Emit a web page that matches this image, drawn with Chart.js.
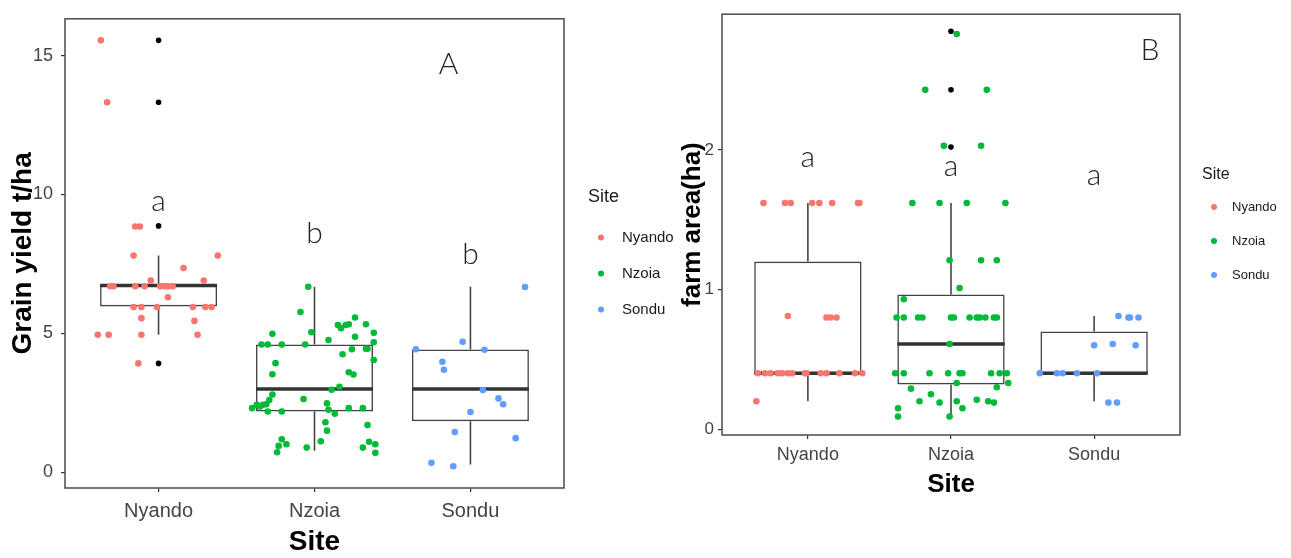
<!DOCTYPE html>
<html>
<head>
<meta charset="utf-8">
<title>Grain yield and farm area by site</title>
<script src="https://cdn.jsdelivr.net/npm/chart.js@4.4.1/dist/chart.umd.min.js"></script>
<style>
    body { margin: 0; background: #fff; }
    .panel { position: absolute; top: 0; }
    #yield_chart { left: 0; }
    #area_chart { left: 680px; }
</style>
</head>
<body>
<canvas id="yield_chart" class="panel" width="680" height="558"></canvas>
<canvas id="area_chart" class="panel" width="611" height="558"></canvas>
<script>
const sites = ['Nyando', 'Nzoia', 'Sondu']
const siteColors = ['#F8766D', '#00BA38', '#619CFF']

// grain yield, t/ha
const yieldTicks = [0, 5, 10, 15]
const yieldLow = [4.95, 0.78, 0.28]
const yieldQ1 = [5.97, 2.19, 1.84]
const yieldMedian = [6.72, 3.0, 3.0]
const yieldQ3 = [6.75, 4.6, 4.42]
const yieldHigh = [7.8, 6.68, 6.68]
const yieldOutliers = [[15.55, 13.32, 8.87, 3.92], [], []]
const yieldLetters = ['a', 'b', 'b']
const yieldLetterY = [9.75, 8.6, 7.85]

const nyandoYield = [15.55, 13.32, 8.85, 8.85, 7.8, 7.8, 7.35, 6.9, 6.9, 6.7, 6.7, 6.7, 6.7, 6.7, 6.7, 6.7, 6.7, 6.3,
    5.95, 5.95, 5.95, 5.95, 5.95, 5.95, 5.55, 5.45, 4.95, 4.95, 4.95, 4.95, 3.92]
const nyandoYieldJitter = [-0.37, -0.33, -0.15, -0.12, -0.16, 0.38, 0.16, -0.05, 0.29, -0.31, -0.29, -0.15, -0.09, 0.01, 0.04, 0.06, 0.09, 0.06,
    -0.16, -0.11, -0.01, 0.22, 0.30, 0.34, -0.11, 0.23, -0.39, -0.32, -0.11, 0.25, -0.13]

const nzoiaYield = [6.68, 5.77, 4.99, 5.04, 5.3, 5.19, 5.3, 5.33, 5.57, 5.33, 5.02, 4.88, 4.76, 4.68, 4.6, 4.6, 4.6, 4.6,
    4.45, 4.45, 4.43, 4.25, 4.04, 3.93, 3.53, 3.6, 3.52, 3.08, 2.97, 2.8, 2.6, 2.64, 2.31, 2.43, 2.37, 2.43, 2.45, 2.19,
    2.19, 2.48, 2.25, 2.11, 2.31, 2.31, 1.8, 1.5, 1.7, 1.12, 0.89, 1.19, 1.01, 0.95, 0.72, 1.1, 1.01, 0.89, 0.7]
const nzoiaYieldJitter = [-0.04, -0.09, -0.27, -0.02, 0.15, 0.17, 0.2, 0.22, 0.26, 0.33, 0.38, 0.26, 0.09, 0.38, -0.34, -0.3, -0.21, -0.06,
    0.33, 0.34, 0.24, 0.18, 0.38, -0.25, -0.27, 0.22, 0.25, 0.16, 0.11, -0.27, -0.29, -0.07, -0.4, -0.37, -0.35, -0.33, -0.31, -0.3,
    -0.21, 0.08, 0.09, 0.13, 0.22, 0.31, 0.07, 0.08, 0.34, 0.04, -0.05, -0.21, -0.18, -0.23, -0.24, 0.35, 0.39, 0.31, 0.39]

const sonduYield = [6.67, 4.7, 4.43, 4.41, 3.98, 3.69, 2.96, 2.66, 2.45, 2.17, 1.45, 1.23, 0.34, 0.22]
const sonduYieldJitter = [0.35, -0.05, -0.35, 0.09, -0.18, -0.17, 0.08, 0.18, 0.21, 0, -0.1, 0.29, -0.25, -0.11]

// farm area, ha
const areaTicks = [0, 1, 2]
const areaLow = [0.2, 0.09, 0.2]
const areaQ1 = [0.4, 0.32, 0.4]
const areaMedian = [0.4, 0.61, 0.4]
const areaQ3 = [1.2, 0.965, 0.7]
const areaHigh = [1.62, 1.62, 0.81]
const areaOutliers = [[], [2.85, 2.43, 2.02], []]
const areaLetters = ['a', 'a', 'a']
const areaLetterY = [1.95, 1.88, 1.82]

const nyandoArea = [1.62, 1.62, 1.62, 1.62, 1.62, 1.62, 1.62, 1.62, 0.81, 0.8, 0.8, 0.8,
    0.4, 0.4, 0.4, 0.4, 0.4, 0.4, 0.4, 0.4, 0.4, 0.4, 0.4, 0.4, 0.4, 0.4, 0.2]
const nyandoAreaJitter = [-0.31, -0.16, -0.12, 0.03, 0.08, 0.17, 0.35, 0.36, -0.14, 0.13, 0.16, 0.2,
    -0.35, -0.3, -0.26, -0.21, -0.18, -0.14, -0.11, -0.02, -0.01, 0.09, 0.13, 0.22, 0.33, 0.38, -0.36]

const nzoiaArea = [2.83, 2.43, 2.43, 2.03, 2.03, 1.62, 1.62, 1.62, 1.62, 1.21, 1.21, 1.21, 1.01, 0.93,
    0.8, 0.8, 0.8, 0.8, 0.8, 0.8, 0.8, 0.8, 0.8, 0.8, 0.8, 0.8, 0.61,
    0.4, 0.4, 0.4, 0.4, 0.4, 0.4, 0.4, 0.4, 0.4, 0.33, 0.33, 0.3, 0.29, 0.25, 0.2, 0.19, 0.2, 0.15, 0.21, 0.2, 0.19, 0.15, 0.09, 0.09]
const nzoiaAreaJitter = [0.04, -0.18, 0.25, -0.05, 0.21, -0.27, -0.08, 0.11, 0.38, -0.01, 0.21, 0.32, 0.06, -0.33,
    -0.38, -0.33, -0.23, -0.2, 0, 0.02, 0.13, 0.18, 0.2, 0.24, 0.3, 0.32, -0.01,
    -0.39, -0.33, -0.15, -0.02, 0.06, 0.08, 0.28, 0.34, 0.39, 0.04, 0.4, 0.32, -0.28, -0.14, -0.22, -0.08, 0.04, 0.08, 0.18, 0.26, 0.3, -0.37, -0.37, -0.01]

const sonduArea = [0.81, 0.8, 0.8, 0.8, 0.6, 0.61, 0.6, 0.4, 0.4, 0.4, 0.4, 0.4, 0.19, 0.19]
const sonduAreaJitter = [0.17, 0.24, 0.25, 0.31, 0, 0.13, 0.29, -0.38, -0.26, -0.22, -0.12, 0.02, 0.1, 0.16]

const BOX_WIDTH = 0.75
const BOX_LINE = '#444'
const TEXT_FONT = "'Liberation Sans', Arial, sans-serif"

function jittered(values, offsets, site) {
    return values.map((v, i) => ({ x: site + offsets[i], y: v }))
}

function pointDatasets(groups) {
    return groups.map((g, i) => ({
        type: 'scatter',
        data: jittered(g[0], g[1], i + 1),
        pointBackgroundColor: siteColors[i],
        pointBorderWidth: 0,
        pointRadius: 3.3,
        order: 0
    }))
}

function boxplotDatasets(low, q1, median, q3, high, outliers) {
    const whiskers = []
    const medians = []
    const dots = []
    sites.forEach((s, i) => {
        const x = i + 1
        whiskers.push({ x, y: q3[i] }, { x, y: high[i] }, { x, y: null })
        whiskers.push({ x, y: low[i] }, { x, y: q1[i] }, { x, y: null })
        medians.push({ x: x - BOX_WIDTH / 2, y: median[i] }, { x: x + BOX_WIDTH / 2, y: median[i] }, { x, y: null })
        outliers[i].forEach(v => dots.push({ x, y: v }))
    })
    return [
        {
            type: 'bar',
            data: sites.map((s, i) => ({ x: i + 1, y: [q1[i], q3[i]] })),
            backgroundColor: '#fff',
            borderColor: BOX_LINE,
            borderWidth: 1.6,
            borderSkipped: false,
            categoryPercentage: 1,
            barPercentage: BOX_WIDTH,
            grouped: false,
            order: 3
        },
        { type: 'line', data: whiskers, borderColor: BOX_LINE, borderWidth: 1.6, pointRadius: 0, spanGaps: false, order: 2 },
        { type: 'line', data: medians, borderColor: '#333', borderWidth: 3.5, pointRadius: 0, spanGaps: false, order: 2 },
        { type: 'scatter', data: dots, pointBackgroundColor: '#000', pointBorderWidth: 0, pointRadius: 2.8, order: 1 }
    ]
}

// letters, panel tag, border and the Site legend
function decorations(letters, letterY, tag, legend) {
    return {
        id: 'decorations',
        afterDraw(chart) {
            const { ctx, chartArea: area, scales: { x, y } } = chart
            ctx.save()
            ctx.strokeStyle = '#555'
            ctx.lineWidth = 1.6
            ctx.strokeRect(area.left, area.top, area.right - area.left, area.bottom - area.top)

            ctx.fillStyle = '#222'
            ctx.textAlign = 'center'
            ctx.textBaseline = 'middle'
            ctx.font = '300 30px Lato, ' + TEXT_FONT
            letters.forEach((t, i) => ctx.fillText(t, x.getPixelForValue(i + 1), y.getPixelForValue(letterY[i])))
            ctx.fillText(tag.text, x.getPixelForValue(tag.x), y.getPixelForValue(tag.y))

            const lx = area.right + legend.gap
            const height = legend.titleGap + legend.rowGap * (sites.length - 1)
            const top = (area.top + area.bottom) / 2 - height / 2
            ctx.textAlign = 'left'
            ctx.fillStyle = '#1a1a1a'
            ctx.font = legend.titleSize + 'px ' + TEXT_FONT
            ctx.fillText('Site', lx, top)
            sites.forEach((s, i) => {
                const ry = top + legend.titleGap + i * legend.rowGap
                ctx.fillStyle = siteColors[i]
                ctx.beginPath()
                ctx.arc(lx + legend.dot, ry, 3, 0, Math.PI * 2)
                ctx.fill()
                ctx.fillStyle = '#1a1a1a'
                ctx.font = legend.labelSize + 'px ' + TEXT_FONT
                ctx.fillText(s, lx + legend.label, ry)
            })
            ctx.restore()
        }
    }
}

function makePanel(canvas, p) {
    new Chart(canvas, {
        type: 'scatter',
        data: {
            datasets: boxplotDatasets(p.low, p.q1, p.median, p.q3, p.high, p.outliers).concat(pointDatasets(p.points))
        },
        options: {
            responsive: false,
            animation: false,
            events: [],
            layout: { padding: p.padding },
            plugins: { legend: { display: false }, tooltip: { enabled: false } },
            scales: {
                x: {
                    type: 'linear',
                    min: 0.4,
                    max: 3.6,
                    offset: false,
                    afterBuildTicks: scale => { scale.ticks = sites.map((s, i) => ({ value: i + 1 })) },
                    afterFit: scale => { scale.height = p.xHeight },
                    border: { display: false },
                    grid: { offset: false, drawOnChartArea: false, drawTicks: true, tickLength: 4, color: '#333', lineWidth: 1.2 },
                    ticks: {
                        callback: value => sites[value - 1],
                        color: '#444',
                        padding: p.xTickPadding,
                        maxRotation: 0,
                        font: { family: TEXT_FONT, size: p.xTickSize }
                    },
                    title: {
                        display: true,
                        text: 'Site',
                        color: '#000',
                        padding: { top: 0, bottom: p.xTitlePadding },
                        font: { family: TEXT_FONT, size: p.titleSize, weight: 'bold', lineHeight: 1 }
                    }
                },
                y: {
                    min: p.yMin,
                    max: p.yMax,
                    afterBuildTicks: scale => { scale.ticks = p.yTicks.map(v => ({ value: v })) },
                    afterFit: scale => { scale.width = p.yWidth },
                    border: { display: false },
                    grid: { drawOnChartArea: false, drawTicks: true, tickLength: 4, color: '#333', lineWidth: 1.2 },
                    ticks: {
                        color: '#444',
                        padding: p.yTickPadding,
                        font: { family: TEXT_FONT, size: p.yTickSize }
                    },
                    title: {
                        display: true,
                        text: p.yTitle,
                        color: '#000',
                        padding: { top: p.yTitlePadding, bottom: 0 },
                        font: { family: TEXT_FONT, size: p.titleSize, weight: 'bold', lineHeight: 1 }
                    }
                }
            }
        },
        plugins: [decorations(p.letters, p.letterY, p.tag, p.legend)]
    })
}

makePanel(document.querySelector('#yield_chart'), {
    low: yieldLow, q1: yieldQ1, median: yieldMedian, q3: yieldQ3, high: yieldHigh, outliers: yieldOutliers,
    points: [[nyandoYield, nyandoYieldJitter], [nzoiaYield, nzoiaYieldJitter], [sonduYield, sonduYieldJitter]],
    yTicks: yieldTicks, yMin: -0.565, yMax: 16.325,
    yTitle: 'Grain yield t/ha',
    letters: yieldLetters, letterY: yieldLetterY,
    tag: { text: 'A', x: 2.86, y: 14.7 },
    padding: { top: 10, right: 116, bottom: 0, left: 0 },
    yWidth: 65, xHeight: 70,
    xTickSize: 20, xTickPadding: 7, yTickSize: 18, yTickPadding: 8,
    titleSize: 28, xTitlePadding: 2, yTitlePadding: 9,
    legend: { gap: 24, titleGap: 40, rowGap: 36, dot: 13, label: 34, titleSize: 18, labelSize: 15 }
})

makePanel(document.querySelector('#area_chart'), {
    low: areaLow, q1: areaQ1, median: areaMedian, q3: areaQ3, high: areaHigh, outliers: areaOutliers,
    points: [[nyandoArea, nyandoAreaJitter], [nzoiaArea, nzoiaAreaJitter], [sonduArea, sonduAreaJitter]],
    yTicks: areaTicks, yMin: -0.042, yMax: 2.972,
    yTitle: 'farm area(ha)',
    letters: areaLetters, letterY: areaLetterY,
    tag: { text: 'B', x: 3.39, y: 2.71 },
    padding: { top: 7, right: 111, bottom: 0, left: 0 },
    yWidth: 42, xHeight: 123,
    xTickSize: 18, xTickPadding: 5, yTickSize: 17, yTickPadding: 4,
    titleSize: 26, xTitlePadding: 60, yTitlePadding: 0,
    legend: { gap: 22, titleGap: 33, rowGap: 34, dot: 12, label: 30, titleSize: 16, labelSize: 13 }
})
</script>
</body>
</html>
